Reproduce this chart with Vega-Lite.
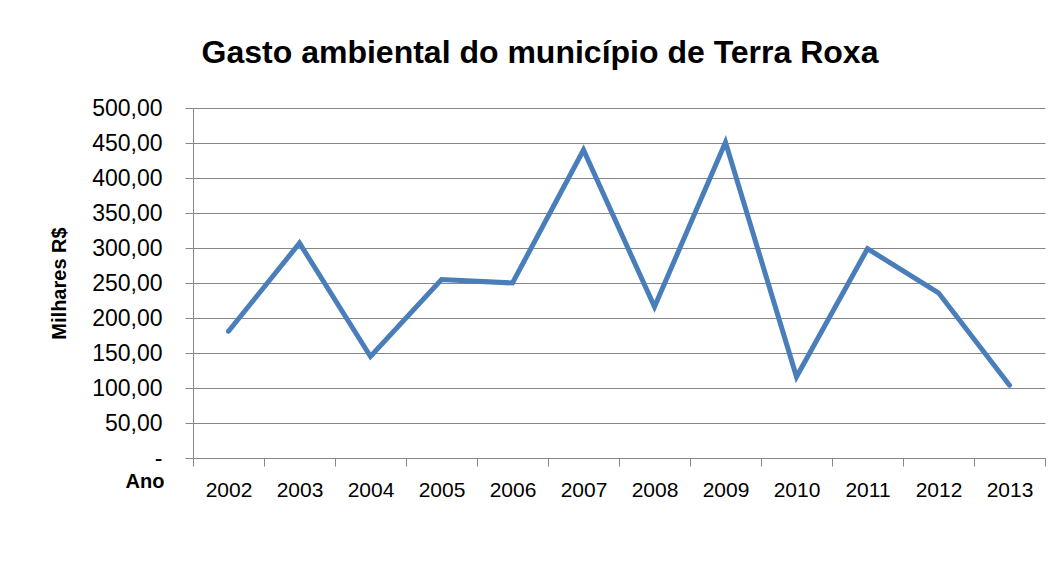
{
  "$schema": "https://vega.github.io/schema/vega-lite/v6.json",
  "width": 852,
  "height": 350,
  "autosize": {"type": "none"},
  "padding": {"left": 193, "top": 108, "right": 19, "bottom": 114},
  "background": "white",
  "title": {
    "text": "Gasto ambiental do município de Terra Roxa",
    "font": "Liberation Sans",
    "fontSize": 32,
    "fontWeight": "bold",
    "color": "#000000",
    "anchor": "middle",
    "frame": "group",
    "dx": -79,
    "offset": 27
  },
  "data": {
    "values": [
      {"Ano": "2002", "Valor": 181},
      {"Ano": "2003", "Valor": 307},
      {"Ano": "2004", "Valor": 145},
      {"Ano": "2005", "Valor": 255},
      {"Ano": "2006", "Valor": 250},
      {"Ano": "2007", "Valor": 440},
      {"Ano": "2008", "Valor": 216},
      {"Ano": "2009", "Valor": 451},
      {"Ano": "2010", "Valor": 116},
      {"Ano": "2011", "Valor": 299},
      {"Ano": "2012", "Valor": 236},
      {"Ano": "2013", "Valor": 104}
    ]
  },
  "mark": {"type": "line", "color": "#4a7ebb", "strokeWidth": 5, "strokeCap": "round", "strokeJoin": "miter"},
  "encoding": {
    "x": {
      "field": "Ano",
      "type": "ordinal",
      "bandPosition": 0.5,
      "scale": {"type": "band", "paddingInner": 0, "paddingOuter": 0},
      "axis": {
        "title": "Ano",
        "titleFont": "Liberation Sans",
        "titleFontSize": 20,
        "titleFontWeight": "bold",
        "titleColor": "#000000",
        "titleAnchor": "start",
        "titleAlign": "left",
        "titleBaseline": "top",
        "titleX": -68,
        "titleY": 13,
        "labelAngle": 0,
        "labelFont": "Liberation Sans",
        "labelFontSize": 21,
        "labelColor": "#000000",
        "labelPadding": 13,
        "tickBand": "extent",
        "tickSize": 8,
        "tickColor": "#868686",
        "domainColor": "#868686",
        "grid": false
      }
    },
    "y": {
      "field": "Valor",
      "type": "quantitative",
      "scale": {"domain": [0, 500], "nice": false},
      "axis": {
        "title": "Milhares R$",
        "titleFont": "Liberation Sans",
        "titleFontSize": 20,
        "titleFontWeight": "bold",
        "titleColor": "#000000",
        "titlePadding": 22,
        "values": [0, 50, 100, 150, 200, 250, 300, 350, 400, 450, 500],
        "labelExpr": "datum.value == 0 ? '-\u00a0\u00a0' : replace(format(datum.value, '.2f'), '.', ',')",
        "labelFont": "Liberation Sans",
        "labelFontSize": 23,
        "labelColor": "#000000",
        "labelPadding": 23,
        "tickSize": 8,
        "tickColor": "#868686",
        "domainColor": "#868686",
        "grid": true,
        "gridColor": "#868686",
        "gridOpacity": 1
      }
    }
  },
  "config": {"view": {"stroke": null}}
}
